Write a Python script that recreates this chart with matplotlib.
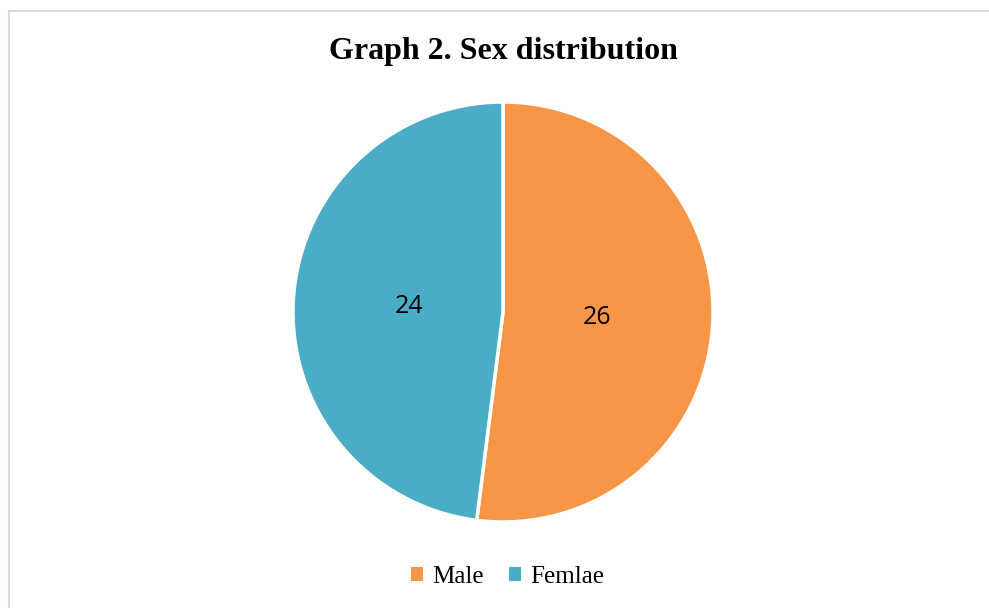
import matplotlib.pyplot as plt
from matplotlib.patches import Rectangle, Patch

# data
labels = ["Male", "Femlae"]
counts = [26, 24]
colors = ["#F79646", "#4BACC6"]

fig = plt.figure(figsize=(9.89, 6.08), dpi=100)

# light gray chart border (only top/left visible in the crop)
fig.patches.append(Rectangle((9 / 989, -0.1), 1.2, 1 - 11 / 608 + 0.1,
                             transform=fig.transFigure, fill=False,
                             edgecolor="#D9D9D9", linewidth=1.5))

# pie: centre ~ (503, 312), radius ~210 px
r = 210
ax = fig.add_axes([(503 - r) / 989, (608 - 312 - r) / 608, 2 * r / 989, 2 * r / 608])
wedges, texts = ax.pie(counts, colors=colors, startangle=90, counterclock=False,
                       labels=[str(c) for c in counts], labeldistance=0.45,
                       wedgeprops=dict(edgecolor="white", linewidth=2.5),
                       textprops=dict(fontsize=18, family="Open Sans"))
for t in texts:
    t.set_ha("center")
ax.set_xlim(-1, 1)
ax.set_ylim(-1, 1)
ax.set_aspect("equal")

fig.text(503 / 989, 1 - 52 / 608, "Graph 2. Sex distribution", ha="center", va="center",
         fontsize=23, fontweight="bold", family="Liberation Serif")

handles = [Patch(facecolor=c, edgecolor="none") for c in colors]
fig.legend(handles, labels, loc="center", bbox_to_anchor=(508 / 989, 1 - 577 / 608),
           ncol=2, frameon=False, prop=dict(family="Liberation Serif", size=18),
           handlelength=0.45, handleheight=0.45, handletextpad=0.4, columnspacing=1.0)

fig.savefig("out.png", dpi=100)
